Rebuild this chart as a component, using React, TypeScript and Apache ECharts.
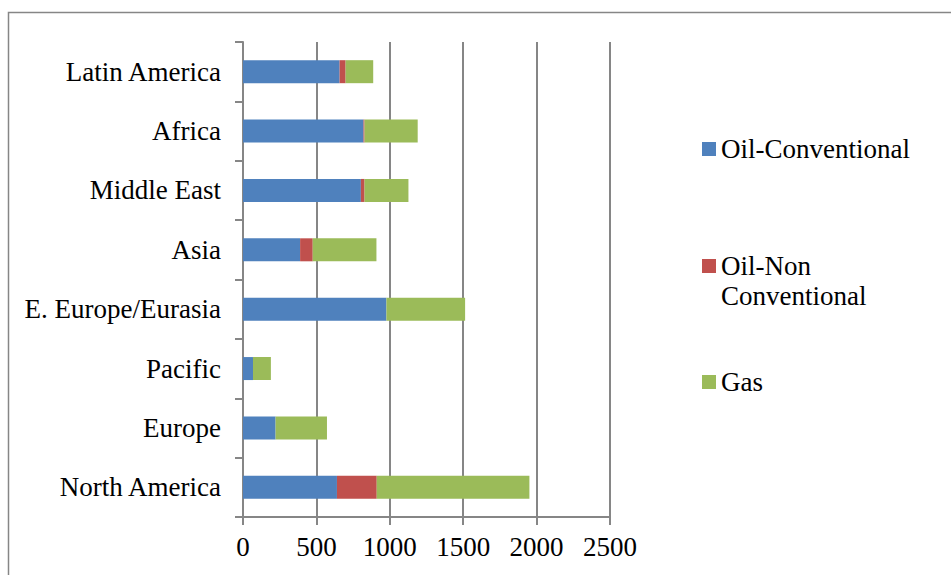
import React, { useEffect, useRef } from "react";
import * as echarts from "echarts";

const categories = [
  "North America",
  "Europe",
  "Pacific",
  "E. Europe/Eurasia",
  "Asia",
  "Middle East",
  "Africa",
  "Latin America",
];
const oilConventional = [640, 222, 68, 977, 389, 803, 821, 658];
const oilNonConventional = [271, 0, 0, 0, 86, 25, 7, 41];
const gas = [1040, 350, 122, 536, 434, 299, 362, 188];
const seriesNames = ["Oil-Conventional", "Oil-Non Conventional", "Gas"];
const seriesColors = ["#4F81BD", "#C0504D", "#9BBB59"];

const FONT = "Liberation Serif";
const FS = 27;
const GRAY = "#868686";

export default function App() {
  const ref = useRef<HTMLDivElement>(null);
  useEffect(() => {
    if (!ref.current) return;
    const chart = echarts.init(ref.current, null, { renderer: "svg" });
    const values = [oilConventional, oilNonConventional, gas];
    const legendText = {
      fontFamily: "Times New Roman",
      fontSize: FS,
      fontWeight: "normal",
      color: "#000",
      lineHeight: 30,
    };
    const legendBase = {
      orient: "vertical",
      left: 702,
      padding: 0,
      itemWidth: 14,
      itemHeight: 14,
      icon: "rect",
      selectedMode: false,
    };
    chart.setOption({
      animation: false,
      backgroundColor: "#fff",
      textStyle: { fontFamily: FONT, color: "#000" },
      graphic: [
        {
          type: "rect",
          shape: { x: 8.5, y: 12.5, width: 1200, height: 1000 },
          style: { fill: "none", stroke: GRAY, lineWidth: 1.5 },
          silent: true,
        },
      ],
      legend: [
        { ...legendBase, top: 134, data: [seriesNames[0]], textStyle: { ...legendText } },
        {
          ...legendBase,
          top: 221,
          data: [seriesNames[1]],
          formatter: () => " \nOil-Non\nConventional",
          textStyle: { ...legendText },
        },
        { ...legendBase, top: 367, data: [seriesNames[2]], textStyle: { ...legendText } },
      ],
      grid: { left: 243, right: 341, top: 42, bottom: 58, containLabel: false },
      xAxis: {
        type: "value",
        min: 0,
        max: 2500,
        interval: 500,
        axisLine: { show: true, lineStyle: { color: GRAY, width: 2 } },
        axisTick: { show: true, length: 8, lineStyle: { color: GRAY, width: 2 } },
        splitLine: { show: true, lineStyle: { color: GRAY, width: 2 } },
        axisLabel: {
          fontFamily: "Times New Roman",
          fontSize: FS,
          color: "#000",
          margin: 16,
          formatter: (v: number) => String(v),
        },
      },
      yAxis: {
        type: "category",
        data: categories,
        axisLine: { show: true, lineStyle: { color: GRAY, width: 2 } },
        axisTick: { show: true, length: 8, lineStyle: { color: GRAY, width: 2 } },
        axisLabel: { fontFamily: FONT, fontSize: FS, color: "#000", margin: 22 },
      },
      series: seriesNames.map((name, i) => ({
        name,
        type: "bar",
        stack: "total",
        barWidth: 23,
        itemStyle: { color: seriesColors[i] },
        data: values[i],
      })),
    });
    return () => chart.dispose();
  }, []);
  return (
    <div
      ref={ref}
      style={{ position: "absolute", left: 0, top: 0, width: 951, height: 575 }}
    />
  );
}
